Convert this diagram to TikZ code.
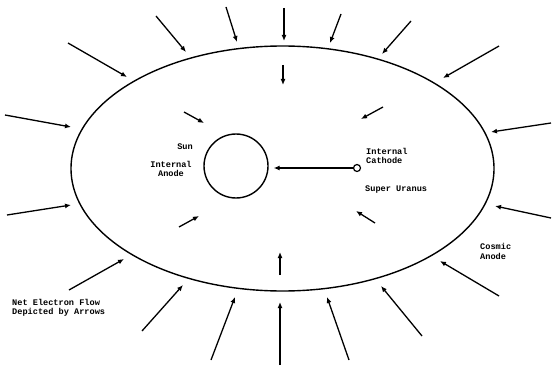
\documentclass[tikz,border=0pt]{standalone}
\usepackage{fontspec}
\setmonofont{Liberation Mono}
\usetikzlibrary{arrows.meta,shapes.geometric}
\begin{document}
\begin{tikzpicture}[x=1pt,y=-1pt,
  flow/.style={line width=1.3pt,-{Latex[length=6pt,width=5pt]}},
  lbl/.style={font=\ttfamily\bfseries\fontsize{8.6}{9.2}\selectfont,inner sep=0pt,align=left},
  body/.style={draw,line width=1.4pt}]
\useasboundingbox (0,0) rectangle (553,366);
% ellipse and bodies
\node[body,ellipse,minimum width=423pt,minimum height=245pt,inner sep=0pt] (univ) at (282.5,168.5) {};
\node[body,circle,minimum size=64pt,inner sep=0pt] (sun) at (236,166) {};
\node[draw,line width=1.2pt,circle,minimum size=7pt,inner sep=0pt] (cath) at (357,168) {};
\draw[flow,shorten >=5pt] (cath) -- (sun.east |- cath);
% labels
\node[lbl,anchor=base east] (sunl) at (193,149.5) {Sun};
\node[lbl,align=center,anchor=base] (ianode) at (171,176.5) {Internal\\Anode};
\node[lbl,anchor=base west] (icath) at (366,163.5) {Internal\\Cathode};
\node[lbl,anchor=base west] (super) at (365,191.5) {Super Uranus};
\node[lbl,anchor=base west] (cosmic) at (480,259) {Cosmic\\Anode};
\node[lbl,anchor=base west] (net) at (12,314.5) {Net Electron Flow\\Depicted by Arrows};
% outer arrows
\coordinate (a1s) at (5,115);   \coordinate (a1e) at (71,127);
\coordinate (a2s) at (68,43);   \coordinate (a2e) at (127,77);
\coordinate (a3s) at (156,16);  \coordinate (a3e) at (186,52);
\coordinate (a4s) at (226,7);   \coordinate (a4e) at (237,42);
\coordinate (b1s) at (284,8);   \coordinate (b1e) at (284,41);
\coordinate (b2s) at (341,14);  \coordinate (b2e) at (330,43);
\coordinate (b3s) at (411,21);  \coordinate (b3e) at (382,54);
\coordinate (b4s) at (499,46);  \coordinate (b4e) at (443,78);
\coordinate (b5s) at (551,123); \coordinate (b5e) at (491,132);
\coordinate (c1s) at (7,215);   \coordinate (c1e) at (71,205);
\coordinate (c2s) at (69,290);  \coordinate (c2e) at (124,259);
\coordinate (c3s) at (142,331); \coordinate (c3e) at (183,285);
\coordinate (c4s) at (211,360); \coordinate (c4e) at (235,297);
\coordinate (d1s) at (280,365); \coordinate (d1e) at (280,302);
\coordinate (d2s) at (349,360); \coordinate (d2e) at (327,297);
\coordinate (d3s) at (422,336); \coordinate (d3e) at (381,286);
\coordinate (d4s) at (499,296); \coordinate (d4e) at (440,261);
\coordinate (d5s) at (551,218); \coordinate (d5e) at (495,206);
\foreach \n in {a1,a2,a3,a4,b1,b2,b3,b4,b5,c1,c2,c3,c4,d1,d2,d3,d4,d5}
  \draw[flow] (\n s) -- (\n e);
% inner arrows
\coordinate (i1s) at (184,112); \coordinate (i1e) at (204,123);
\coordinate (i2s) at (283,65);  \coordinate (i2e) at (283,85);
\coordinate (i3s) at (383,107); \coordinate (i3e) at (361,119);
\coordinate (i4s) at (179,227); \coordinate (i4e) at (199,216);
\coordinate (i5s) at (280,275); \coordinate (i5e) at (280,252);
\coordinate (i6s) at (375,223); \coordinate (i6e) at (356,211);
\foreach \n in {i1,i2,i3,i4,i5,i6}
  \draw[flow] (\n s) -- (\n e);
\end{tikzpicture}
\end{document}
